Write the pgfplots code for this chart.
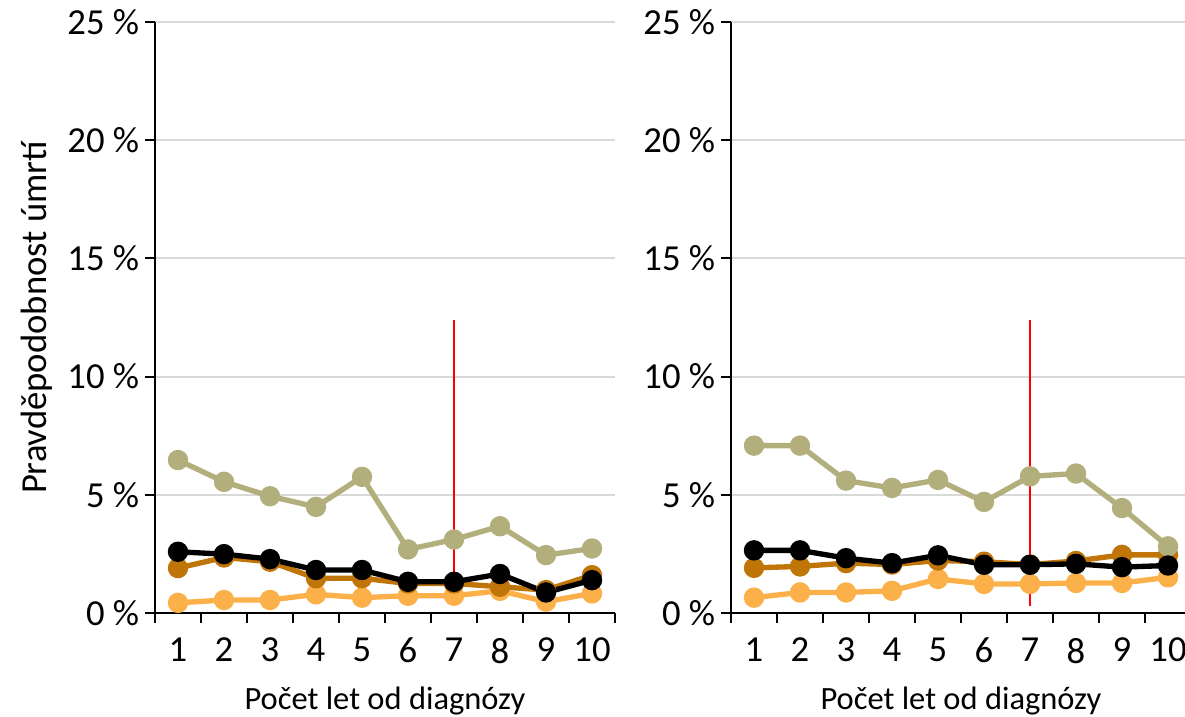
\documentclass[border=0pt]{standalone}
\usepackage{pgfplots}
\pgfplotsset{compat=1.18}
\usepackage{fontspec}
\setmainfont{Carlito}
\definecolor{cOlive}{RGB}{179,175,125}
\definecolor{cBrown}{RGB}{192,117,8}
\definecolor{cLight}{RGB}{251,176,74}
\definecolor{cGrid}{RGB}{217,217,217}
\newcommand{\tfont}{\fontsize{22}{26}\selectfont}
\newcommand{\lfont}{\fontsize{19.5}{23}\selectfont}
\pgfplotsset{
  every tick label/.append style={font=\tfont},
  panel/.style={
    scale only axis, width=276pt, height=354.6pt, anchor=south west,
    xmin=0.5, xmax=10.5, ymin=0, ymax=25,
    axis lines*=left,
    axis line style={line width=1.2pt, black},
    xtick={0.5,1.5,...,10.5},
    x tick label as interval,
    xticklabels={1,2,3,4,5,6,7,8,9,10},
    xticklabel shift=5.5pt,
    ytick={0,5,10,15,20,25},
    yticklabels={0~\%,5~\%,10~\%,15~\%,20~\%,25~\%},
    tick align=outside, major tick length=6pt,
    tick style={line width=1.2pt, black},
    ymajorgrids, grid style={cGrid, line width=1.2pt},
    xlabel={Počet let od diagnózy},
    xlabel style={font=\lfont, at={(axis description cs:0.5,-0.164)}, anchor=base},
    clip=false,
    every axis plot/.append style={line width=3.2pt, mark=*, mark size=4.5pt},
  }
}
\begin{document}
\begin{tikzpicture}
\path[use as bounding box] (0,0) rectangle (711pt,429.6pt);
\begin{axis}[panel, at={(93pt,61.8pt)},
  ylabel={Pravděpodobnost úmrtí},
  ylabel style={font=\fontsize{22}{26}\selectfont, at={(axis description cs:-0.258,0.5)}, anchor=center, rotate=0}]
\addplot[cLight, mark options={fill=cLight}] coordinates {(1,0.43)(2,0.55)(3,0.55)(4,0.79)(5,0.65)(6,0.73)(7,0.73)(8,0.94)(9,0.48)(10,0.83)};
\addplot[cBrown, mark options={fill=cBrown}] coordinates {(1,1.90)(2,2.35)(3,2.17)(4,1.47)(5,1.47)(6,1.25)(7,1.25)(8,1.11)(9,0.97)(10,1.60)};
\addplot[cOlive, mark options={fill=cOlive}] coordinates {(1,6.47)(2,5.55)(3,4.94)(4,4.49)(5,5.76)(6,2.69)(7,3.11)(8,3.67)(9,2.45)(10,2.73)};
\addplot[black, mark options={fill=black}] coordinates {(1,2.59)(2,2.49)(3,2.28)(4,1.82)(5,1.82)(6,1.32)(7,1.32)(8,1.65)(9,0.87)(10,1.39)};
\addplot[red, line width=1.2pt, mark=none] coordinates {(7,0.34)(7,12.4)};
\end{axis}
\begin{axis}[panel, at={(438.6pt,61.8pt)}]
\addplot[cLight, mark options={fill=cLight}] coordinates {(1,0.65)(2,0.87)(3,0.87)(4,0.94)(5,1.44)(6,1.23)(7,1.23)(8,1.27)(9,1.27)(10,1.51)};
\addplot[cBrown, mark options={fill=cBrown}] coordinates {(1,1.91)(2,1.97)(3,2.11)(4,2.05)(5,2.22)(6,2.17)(7,2.05)(8,2.20)(9,2.46)(10,2.46)};
\addplot[cOlive, mark options={fill=cOlive}] coordinates {(1,7.08)(2,7.08)(3,5.60)(4,5.29)(5,5.63)(6,4.70)(7,5.78)(8,5.90)(9,4.44)(10,2.82)};
\addplot[black, mark options={fill=black}] coordinates {(1,2.65)(2,2.65)(3,2.32)(4,2.11)(5,2.44)(6,2.04)(7,2.04)(8,2.08)(9,1.94)(10,2.01)};
\addplot[red, line width=1.2pt, mark=none] coordinates {(7,0.30)(7,12.4)};
\end{axis}
\end{tikzpicture}
\end{document}
